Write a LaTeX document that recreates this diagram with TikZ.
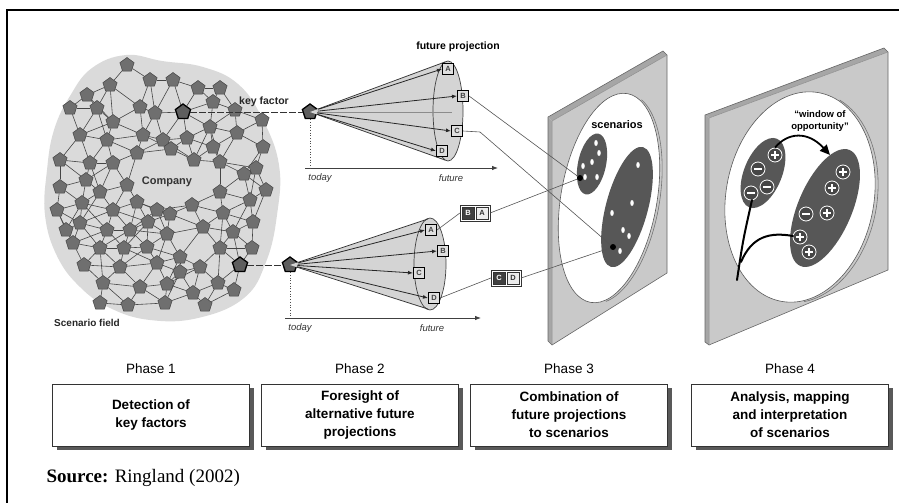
\documentclass[tikz,border=0pt]{standalone}
\usepackage{fontspec}
\setmainfont{Liberation Serif}
\newfontfamily\arialf{Liberation Sans}
\usetikzlibrary{shapes.geometric,arrows.meta,shadows,fit}
\pgfdeclarelayer{bg}
\pgfsetlayers{bg,main}

\definecolor{fieldgray}{HTML}{DADADA}
\definecolor{pentfill}{HTML}{6F6F6F}
\definecolor{pentline}{HTML}{454545}
\definecolor{conegray}{HTML}{D4D4D4}
\definecolor{platefront}{HTML}{C9C9C9}
\definecolor{plateside}{HTML}{A6A6A6}
\definecolor{blobgray}{HTML}{575757}
\definecolor{linkgray}{HTML}{555555}

\begin{document}
\begin{tikzpicture}[x=1pt,y=-1pt,
  pent/.style={regular polygon,regular polygon sides=5,minimum size=15pt,inner sep=0pt,
    fill=pentfill,draw=pentline,line width=0.5pt},
  keypent/.style={pent,minimum size=16pt,fill=pentfill!85!black,draw=black,line width=1.3pt},
  netedge/.style={draw=pentline,line width=0.6pt},
  lbl/.style={font=\arialf\bfseries\fontsize{10.5}{12}\selectfont},
  axislbl/.style={font=\arialf\itshape\fontsize{9.5}{11}\selectfont,text=black!80},
  letbox/.style={draw=black,line width=1.1pt,fill=gray!25,minimum size=11pt,inner sep=0pt,
    font=\arialf\bfseries\fontsize{7.5}{8}\selectfont,text=black!75},
  sqdark/.style={draw=black!80,line width=0.6pt,fill=black!75,minimum size=12pt,inner sep=0pt,
    font=\arialf\bfseries\fontsize{7.5}{8}\selectfont,text=white},
  sqlight/.style={sqdark,fill=gray!15,text=black!80},
  combo/.style={draw=black!80,line width=0.6pt,inner sep=1.5pt},
  fanarrow/.style={draw=black!85,line width=0.8pt,-{Latex[length=5pt,width=4pt]}},
  coneline/.style={draw=black!80,line width=0.7pt},
  axis/.style={draw=black!75,line width=0.8pt,-{Latex[length=6pt,width=4.5pt]}},
  link/.style={draw=linkgray,line width=0.6pt},
  spot/.style={circle,fill=black,minimum size=6pt,inner sep=0pt},
  dotw/.style={ellipse,fill=white,minimum width=3.5pt,minimum height=6pt,inner sep=0pt},
  plateside/.style={fill=plateside},
  plateedge/.style={draw=black!60,line width=0.6pt},
  sign/.style={circle,fill=blobgray!80!black,draw=white,line width=0.8pt,minimum size=14pt,inner sep=0pt},
  plus/.style={sign,path picture={\draw[white,line width=2pt]
    ([xshift=-4pt]path picture bounding box.center) -- ([xshift=4pt]path picture bounding box.center)
    ([yshift=-4pt]path picture bounding box.center) -- ([yshift=4pt]path picture bounding box.center);}},
  minus/.style={sign,path picture={\draw[white,line width=2pt]
    ([xshift=-4pt]path picture bounding box.center) -- ([xshift=4pt]path picture bounding box.center);}},
  tree/.style={draw=black,line width=2pt,line cap=round},
  phasebox/.style={draw=black!80,line width=0.8pt,fill=white,minimum width=197pt,minimum height=62pt,
    align=center,font=\arialf\bfseries\fontsize{13.5}{18}\selectfont,
    drop shadow={shadow xshift=4pt,shadow yshift=-4pt,fill=black!65,opacity=1}},
  phaselbl/.style={font=\arialf\fontsize{13.5}{15}\selectfont}
]
\useasboundingbox (0,0) rectangle (899,503);

% outer frame
\draw[line width=1.6pt] (7,503) -- (7,10) -- (899,10);

% ---------- scenario field ----------
\begin{pgfonlayer}{bg}
\fill[fieldgray] plot[smooth cycle,tension=0.7] coordinates {
  (92,68) (126,55) (162,61) (203,67) (238,84) (262,118) (279,165) (277,215)
  (266,262) (244,298) (198,318) (150,320) (110,308) (80,287) (57,256)
  (45,215) (47,170) (54,130) (70,96)};
\end{pgfonlayer}

\def\netlist{183/112/keypent, 240/265/keypent,
 127/65/pent, 110/85/pent, 150/80/pent, 173/80/pent, 198/88/pent, 220/88/pent,
 70/108/pent, 97/108/pent, 140/107/pent, 155/113/pent, 213/102/pent, 210/127/pent,
 113/122/pent, 80/135/pent, 107/140/pent, 143/135/pent, 163/140/pent, 171/149/pent,
 187/138/pent, 213/147/pent, 237/133/pent, 263/147/pent, 60/160/pent, 90/163/pent,
 113/163/pent, 137/153/pent, 194/160/pent, 220/162/pent, 244/174/pent, 60/187/pent,
 100/192/pent, 127/185/pent, 220/192/pent, 250/200/pent, 266/190/pent, 57/210/pent,
 82/203/pent, 113/210/pent, 137/202/pent, 157/210/pent, 170/214/pent, 192/205/pent,
 223/213/pent, 253/222/pent, 80/223/pent, 107/230/pent, 130/230/pent, 148/222/pent,
 167/234/pent, 203/227/pent, 233/232/pent, 73/243/pent, 100/248/pent, 147/247/pent,
 180/257/pent, 220/248/pent, 120/267/pent, 157/263/pent, 180/272/pent, 200/267/pent,
 103/283/pent, 140/287/pent, 167/284/pent, 193/293/pent, 218/283/pent, 128/305/pent,
 165/303/pent, 87/95/pent, 235/110/pent, 252/248/pent, 84/265/pent,
 256/168/pent, 86/180/pent, 124/248/pent, 205/305/pent, 100/303/pent,
 262/120/pent, 66/230/pent, 234/290/pent}

\foreach [count=\i] \x/\y/\s in \netlist {
  \node[style=\s] (n\i) at (\x,\y) {};
  \expandafter\xdef\csname nx\i\endcsname{\x}
  \expandafter\xdef\csname ny\i\endcsname{\y}
  \xdef\netcount{\i}
}

% links between neighbouring factors
\begin{pgfonlayer}{bg}
\foreach \i in {1,...,\netcount}{
  \foreach \j in {1,...,\netcount}{
    \ifnum\j>\i\relax
      \pgfmathsetmacro\dd{veclen(\csname nx\i\endcsname-\csname nx\j\endcsname,
                                 \csname ny\i\endcsname-\csname ny\j\endcsname)}
      \ifdim\dd pt<38pt\relax \draw[netedge] (n\i) -- (n\j); \fi
    \fi
  }
}
\end{pgfonlayer}

\node[font=\arialf\bfseries\fontsize{11}{13}\selectfont,text=black!80] (company) at (167,182) {Company};
\node[font=\arialf\bfseries\fontsize{10}{12}\selectfont,text=black!85] (field) at (87,323) {Scenario field};

% ---------- phase 2: upper projection ----------
\node[keypent] (pu) at (310,112) {};
\draw[black!80,line width=0.8pt,dash pattern=on 7pt off 2pt] (n1) -- (pu);
\node[lbl,text=black!85] (kf) at (264,102) {key factor};

\fill[conegray] (pu.center) -- (446,61) -- (446,161) -- cycle;
\fill[conegray] (448,111) ellipse[x radius=15pt,y radius=50pt];
\draw[black!75,line width=0.7pt] (448,111) ellipse[x radius=15pt,y radius=50pt];
\coordinate (ut) at (445,62);
\coordinate (ub) at (445,160);
\coordinate (um) at (452,112);
\draw[coneline] (pu) -- (ut);
\draw[coneline] (pu) -- (ub);
\draw[black!45,line width=0.6pt] (pu) -- (um);

\node[letbox] (uA) at (448,69) {A};
\node[letbox] (uB) at (463,96) {B};
\node[letbox] (uC) at (457,131) {C};
\node[letbox] (uD) at (442,151) {D};
\foreach \b in {uA,uB,uC,uD} \draw[fanarrow] (pu) -- (\b.west);

\node[font=\arialf\bfseries\fontsize{10.5}{12}\selectfont] (fp) at (458,47) {future projection};

\coordinate (ua0) at (305,168);
\coordinate (ua1) at (498,168);
\coordinate (ut0) at (310,168);
\draw[axis] (ua0) -- (ua1);
\draw[black!70,line width=0.7pt,dotted] (pu) -- (ut0);
\node[axislbl] (utoday) at (320,178) {today};
\node[axislbl] (ufuture) at (451,178) {future};

% ---------- phase 2: lower projection ----------
\node[keypent] (pl) at (290,265) {};
\draw[black!80,line width=0.8pt,dash pattern=on 7pt off 2pt] (n2) -- (pl);

\fill[conegray] (pl.center) -- (429,218) -- (429,310) -- cycle;
\fill[conegray] (430,264) ellipse[x radius=16pt,y radius=46pt];
\draw[black!75,line width=0.7pt] (430,264) ellipse[x radius=16pt,y radius=46pt];
\coordinate (lt) at (428,219);
\coordinate (lb) at (428,309);
\draw[coneline] (pl) -- (lt);
\draw[coneline] (pl) -- (lb);

\node[letbox] (lA) at (431,230) {A};
\node[letbox] (lB) at (443,251) {B};
\node[letbox] (lC) at (419,273) {C};
\node[letbox] (lD) at (434,298) {D};
\foreach \b in {lA,lB,lC,lD} \draw[fanarrow] (pl) -- (\b.west);

\coordinate (la0) at (285,318);
\coordinate (la1) at (481,318);
\coordinate (lt0) at (290,318);
\draw[axis] (la0) -- (la1);
\draw[black!70,line width=0.7pt,dotted] (pl) -- (lt0);
\node[axislbl] (ltoday) at (300,328) {today};
\node[axislbl] (lfuture) at (432,328) {future};

% combined projections
\node[sqdark] (baB) at (468,213) {B};
\node[sqlight] (baA) at (482,213) {A};
\node[combo,fit=(baB)(baA)] (ba) {};
\node[sqdark] (cdC) at (499,278) {C};
\node[sqlight] (cdD) at (513,278) {D};
\node[combo,fit=(cdC)(cdD)] (cd) {};

% ---------- phase 3: scenario plate ----------
\fill[plateside] (548,117) -- (663,51) -- (667,55) -- (552,121) -- cycle;
\fill[plateside] (548,117) -- (552,121) -- (552,345) -- (548,341) -- cycle;
\fill[platefront] (552,121) -- (667,55) -- (667,273) -- (552,345) -- cycle;
\draw[plateedge] (548,117) -- (663,51) -- (667,55) -- (667,273) -- (552,345) -- (548,341) -- cycle;
\draw[black!45,line width=0.5pt] (552,121) -- (667,55) (552,121) -- (552,345);

\begin{scope}[shift={(609,198)},rotate=-10]
  \fill[white] (0,0) ellipse[x radius=48pt,y radius=106pt];
  \draw[black!65,line width=0.6pt] (0,0) ellipse[x radius=48pt,y radius=106pt];
  \draw[black!55,line width=0.6pt] (2.5pt,0pt) ++(-75:48pt and 106pt)
    arc[start angle=-75,end angle=75,x radius=48pt,y radius=106pt];
\end{scope}
\fill[blobgray,rotate around={-12:(592,164)}] (592,164) ellipse[x radius=14pt,y radius=31pt];
\fill[blobgray,rotate around={-15:(627,207)}] (627,207) ellipse[x radius=21pt,y radius=62pt];
\foreach \x/\y in {596/143,599/153,592/162,583/166,585/177,597/177,
                   638/165,632/203,612/213,623/230,629/236,620/251}
  \node[dotw] at (\x,\y) {};
\node[font=\arialf\bfseries\fontsize{11}{12}\selectfont] (scen) at (617,125) {scenarios};

\node[spot] (s1) at (580,178) {};
\node[spot] (s2) at (613,247) {};
\coordinate (cbend) at (480,132);
\draw[link] (uB.east) -- (s1);
\draw[link] (uC.east) -- (cbend) -- (s2);
\draw[link] (lA.east) -- (ba.west);
\draw[link] (ba.east) -- (s1);
\draw[link] (lD.east) -- (cd.west);
\draw[link] (cd.east) -- (s2);

% ---------- phase 4: analysis plate ----------
\fill[plateside] (705,115) -- (884,48) -- (888,52) -- (709,118) -- cycle;
\fill[plateside] (705,115) -- (709,118) -- (709,345) -- (705,342) -- cycle;
\fill[platefront] (709,118) -- (888,52) -- (888,270) -- (709,345) -- cycle;
\draw[plateedge] (705,115) -- (884,48) -- (888,52) -- (888,270) -- (709,345) -- (705,342) -- cycle;
\draw[black!45,line width=0.5pt] (709,118) -- (888,52) (709,118) -- (709,345);

\begin{scope}[shift={(800,197)},rotate=-10]
  \fill[white] (0,0) ellipse[x radius=74pt,y radius=106pt];
  \draw[black!65,line width=0.6pt] (0,0) ellipse[x radius=74pt,y radius=106pt];
  \draw[black!55,line width=0.6pt] (3pt,0pt) ++(-75:74pt and 106pt)
    arc[start angle=-75,end angle=75,x radius=74pt,y radius=106pt];
\end{scope}
\fill[blobgray,rotate around={-22:(763,173)}] (763,173) ellipse[x radius=19pt,y radius=37pt];
\fill[blobgray,rotate around={-23:(825,208)}] (825,208) ellipse[x radius=27pt,y radius=63pt];

\node[plus]  (p1) at (775,155) {};
\node[minus] (m1) at (758,169) {};
\node[minus] (m2) at (767,187) {};
\node[minus] (m3) at (751,193) {};
\node[plus]  (p2) at (843,172) {};
\node[plus]  (p3) at (832,188) {};
\node[minus] (m4) at (806,214) {};
\node[plus]  (p4) at (827,213) {};
\node[plus]  (p5) at (800,237) {};
\node[plus]  (p6) at (809,252) {};

\coordinate (tb) at (737,280);
\coordinate (tk) at (741,262);
\coordinate (ta) at (752,200);
\coordinate (tc) at (793,236);
\draw[tree] (tb) .. controls (743,240) .. (ta);
\draw[tree] (tk) .. controls (752,236) and (770,232) .. (tc);

\draw[black,line width=1.8pt,-{Triangle[length=10pt,width=9pt]}] (p1.north)
  .. controls (788,132) and (808,131) .. (830,155);
\node[font=\arialf\bfseries\fontsize{9.5}{11.5}\selectfont,align=center] (woo) at (820,121)
  {“window of\\opportunity”};

% ---------- phase boxes ----------
\node[phaselbl] (ph1) at (151,369) {Phase 1};
\node[phaselbl] (ph2) at (360,369) {Phase 2};
\node[phaselbl] (ph3) at (569,369) {Phase 3};
\node[phaselbl] (ph4) at (790,369) {Phase 4};
\node[phasebox] (b1) at (151,415) {Detection of\\key factors};
\node[phasebox] (b2) at (360,415) {Foresight of\\alternative future\\projections};
\node[phasebox] (b3) at (569,415) {Combination of\\future projections\\to scenarios};
\node[phasebox] (b4) at (790,415) {Analysis, mapping\\and interpretation\\of scenarios};

\node[anchor=west,font=\fontsize{19}{21}\selectfont] (src) at (43,478) {\textbf{Source:} Ringland (2002)};
\end{tikzpicture}
\end{document}
